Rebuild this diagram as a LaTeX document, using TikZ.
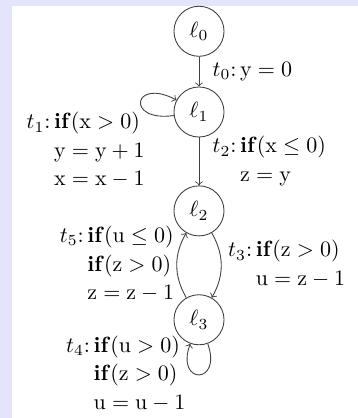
\documentclass[tikz,border=0pt]{standalone}
\usepackage{amsmath}

\definecolor{panelbg}{RGB}{228,228,252}
\renewcommand{\arraystretch}{1.08}

\begin{document}
\begin{tikzpicture}[
    >=to,
    line width=0.4pt,
    state/.style={
        draw=black!75,
        circle,
        minimum size=0.8cm,
        inner sep=0pt
    },
    trans/.style={->, draw=black!75},
    lab/.style={inner sep=1pt}
]
\useasboundingbox (0,0) rectangle (5.72,-6.68);

% Frame
\fill[panelbg] (0,0) rectangle (5.72,-6.68);
\fill[white] (0.19,-0.10) rectangle (5.72,-6.68);

% Locations
\node[state] (l0) at (3.18,-0.50) {$\ell_0$};
\node[state] (l1) at (3.18,-1.79) {$\ell_1$};
\node[state] (l2) at (3.18,-3.37) {$\ell_2$};
\node[state] (l3) at (3.18,-5.11) {$\ell_3$};

% Transitions
\draw[trans] (l0) -- node[lab, midway, right=5pt] {$t_0$:\,$\mathrm{y}=0$} (l1);

\draw[trans] (l1) to[out=188, in=152, looseness=8, min distance=5mm]
    node[lab, pos=0.5, anchor=north east, xshift=3pt, yshift=-2pt] {%
    \begin{tabular}{@{}l@{\,}l@{}}
    $t_1$: & \textbf{if}$(\mathrm{x}>0)$\\
           & $\mathrm{y}=\mathrm{y}+1$\\
           & $\mathrm{x}=\mathrm{x}-1$
    \end{tabular}} (l1);

\draw[trans] (l1) -- node[lab, midway, right=5pt] {%
    \begin{tabular}{@{}l@{\,}l@{}}
    $t_2$: & \textbf{if}$(\mathrm{x}\le 0)$\\
           & $\mathrm{z}=\mathrm{y}$
    \end{tabular}} (l2);

\draw[trans] (l2) to[bend left=30] node[lab, midway, right=2pt] {%
    \begin{tabular}{@{}l@{\,}l@{}}
    $t_3$: & \textbf{if}$(\mathrm{z}>0)$\\
           & $\mathrm{u}=\mathrm{z}-1$
    \end{tabular}} (l3);

\draw[trans] (l3) to[out=-70, in=-110, looseness=6.5, min distance=4mm]
    node[lab, pos=0.5, anchor=east, xshift=-5pt] {%
    \begin{tabular}{@{}l@{\,}l@{}}
    $t_4$: & \textbf{if}$(\mathrm{u}>0)$\\
           & \textbf{if}$(\mathrm{z}>0)$\\
           & $\mathrm{u}=\mathrm{u}-1$
    \end{tabular}} (l3);

\draw[trans] (l3) to[bend left=30] node[lab, midway, left=0pt] {%
    \begin{tabular}{@{}l@{\,}l@{}}
    $t_5$: & \textbf{if}$(\mathrm{u}\le 0)$\\
           & \textbf{if}$(\mathrm{z}>0)$\\
           & $\mathrm{z}=\mathrm{z}-1$
    \end{tabular}} (l2);

\end{tikzpicture}
\end{document}
